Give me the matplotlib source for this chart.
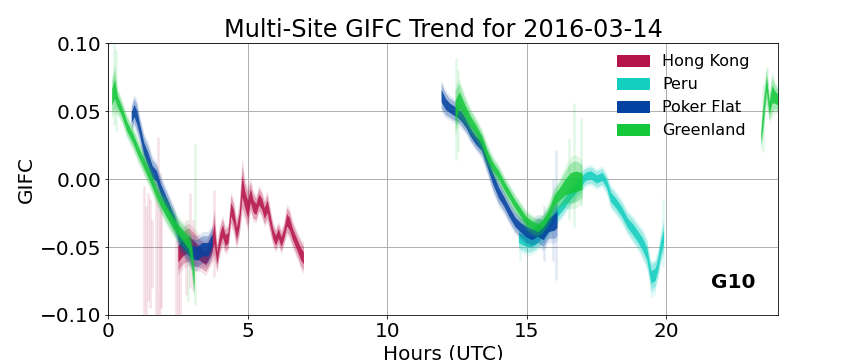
import numpy as np
import matplotlib
matplotlib.use("Agg")
import matplotlib.pyplot as plt
from matplotlib.patches import Patch

nan = np.nan

title = "Multi-Site GIFC Trend for 2016-03-14"
site_names = ["Hong Kong", "Peru", "Poker Flat", "Greenland"]
site_colors = ["#B5134A", "#12CFC0", "#0342A0", "#15C73B"]

# ---- Hong Kong (hours, centre, half spread) ----
hk_hours = [2.5, 2.7, 2.9, 3.1, 3.3, 3.5, 3.7, 3.8, 3.9, 4.0, 4.1, 4.2, 4.3, 4.4, 4.5, 4.6,
            4.7, 4.8, 4.9, 5.0, 5.1, 5.2, 5.3, 5.4, 5.5, 5.6, 5.7, 5.8, 5.9, 6.0, 6.1, 6.2,
            6.3, 6.4, 6.5, 6.6, 6.7, 6.8, 6.9, 7.0]
hk_center = [-0.055, -0.050, -0.048, -0.052, -0.055, -0.058, -0.050, -0.040, -0.058, -0.045,
             -0.038, -0.045, -0.043, -0.022, -0.028, -0.040, -0.030, -0.005, -0.015, -0.022,
             -0.012, -0.020, -0.022, -0.015, -0.018, -0.025, -0.020, -0.030, -0.040, -0.045,
             -0.040, -0.046, -0.040, -0.030, -0.033, -0.040, -0.045, -0.050, -0.055, -0.058]
hk_spread = [0.012, 0.012, 0.012, 0.012, 0.010, 0.010, 0.010, 0.015, 0.009, 0.009,
             0.009, 0.008, 0.008, 0.010, 0.010, 0.009, 0.010, 0.016, 0.012, 0.013,
             0.010, 0.009, 0.008, 0.008, 0.008, 0.008, 0.009, 0.008, 0.007, 0.007,
             0.007, 0.007, 0.007, 0.009, 0.009, 0.008, 0.008, 0.008, 0.009, 0.009]
hk_spike_hours = [1.28, 1.35, 1.42, 1.5, 1.58, 1.72, 1.78, 1.85, 1.9, 2.42, 2.5, 2.58, 2.8, 2.95, 3.05, 3.78]
hk_spike_low = [-0.099, -0.1, -0.09, -0.095, -0.08, -0.1, -0.1, -0.1, -0.095, -0.1, -0.1, -0.1, -0.085, -0.08, -0.082, -0.072]
hk_spike_high = [-0.005, -0.02, -0.01, -0.015, -0.03, 0.0, 0.031, 0.005, -0.02, -0.045, -0.04, -0.05, -0.03, -0.01, -0.03, -0.008]

# ---- Peru ----
pe_hours = [14.7, 14.9, 15.1, 15.3, 15.5, 15.7, 15.9, 16.1, 16.3, 16.5, 16.7, 16.9, 17.1, 17.3,
            17.5, 17.7, 17.85, 18.0, 18.2, 18.4, 18.6, 18.8, 19.0, 19.15, 19.3, 19.45, 19.6,
            19.7, 19.8, 19.9]
pe_center = [-0.043, -0.045, -0.046, -0.045, -0.040, -0.036, -0.030, -0.024, -0.019, -0.013,
             -0.008, -0.003, 0.002, 0.003, 0.000, 0.002, -0.003, -0.013, -0.018, -0.024,
             -0.032, -0.037, -0.043, -0.048, -0.055, -0.072, -0.070, -0.062, -0.050, -0.042]
pe_spread = [0.007, 0.008, 0.008, 0.007, 0.008, 0.007, 0.007, 0.007, 0.007, 0.007,
             0.007, 0.007, 0.006, 0.006, 0.006, 0.006, 0.006, 0.007, 0.007, 0.007,
             0.007, 0.008, 0.008, 0.009, 0.009, 0.009, 0.009, 0.009, 0.010, 0.010]
pe_spike_hours = [14.75, 19.45, 19.55, 19.88]
pe_spike_low = [-0.060, -0.087, -0.085, -0.065]
pe_spike_high = [-0.040, -0.060, -0.060, -0.015]

# ---- Poker Flat ----
pf_hours = [0.85, 0.95, 1.05, 1.15, 1.3, 1.45, 1.6, 1.75, 1.9, 2.05, 2.2, 2.4, 2.6, 2.8, 3.0,
            3.2, 3.4, 3.6, 3.75, nan,
            11.95, 12.1, 12.25, 12.4, 12.55, 12.7, 12.85, 13.0, 13.2, 13.4, 13.6, 13.8, 14.0,
            14.2, 14.4, 14.6, 14.8, 15.0, 15.2, 15.4, 15.6, 15.8, 16.0, 16.1]
pf_center = [0.045, 0.050, 0.045, 0.036, 0.022, 0.014, 0.005, 0.002, -0.008, -0.015, -0.022,
             -0.032, -0.045, -0.050, -0.054, -0.055, -0.052, -0.052, -0.045, nan,
             0.061, 0.055, 0.052, 0.050, 0.048, 0.045, 0.040, 0.034, 0.028, 0.024, 0.012,
             0.000, -0.010, -0.017, -0.025, -0.032, -0.036, -0.039, -0.041, -0.038, -0.040,
             -0.034, -0.032, -0.030]
pf_spread = [0.008, 0.009, 0.010, 0.008, 0.009, 0.010, 0.009, 0.008, 0.008, 0.008, 0.008,
             0.008, 0.008, 0.008, 0.010, 0.010, 0.010, 0.010, 0.009, nan,
             0.009, 0.008, 0.007, 0.007, 0.006, 0.007, 0.006, 0.006, 0.006, 0.007, 0.007,
             0.008, 0.008, 0.007, 0.007, 0.007, 0.007, 0.008, 0.008, 0.009, 0.010, 0.010,
             0.012, 0.012]
pf_spike_hours = [15.6, 15.95, 16.05]
pf_spike_low = [-0.060, -0.060, -0.074]
pf_spike_high = [-0.020, 0.000, 0.021]

# ---- Greenland ----
gl_hours = [0.15, 0.25, 0.35, 0.5, 0.7, 0.9, 1.1, 1.3, 1.5, 1.7, 1.9, 2.1, 2.3, 2.5, 2.7, 2.9,
            3.0, 3.1, nan,
            12.45, 12.6, 12.8, 13.0, 13.2, 13.4, 13.6, 13.8, 14.0, 14.2, 14.4, 14.6, 14.8,
            15.0, 15.2, 15.4, 15.6, 15.8, 16.0, 16.2, 16.4, 16.6, 16.8, 17.0, nan,
            23.4, 23.5, 23.6, 23.7, 23.8, 23.9, 24.0]
gl_center = [0.060, 0.066, 0.057, 0.050, 0.038, 0.030, 0.020, 0.011, 0.002, -0.008, -0.017,
             -0.024, -0.031, -0.037, -0.042, -0.047, -0.055, -0.075, nan,
             0.050, 0.058, 0.050, 0.042, 0.036, 0.028, 0.017, 0.009, 0.003, -0.005, -0.012,
             -0.019, -0.025, -0.031, -0.034, -0.036, -0.033, -0.026, -0.016, -0.011, -0.006,
             -0.003, -0.002, -0.002, nan,
             0.030, 0.050, 0.070, 0.052, 0.062, 0.060, 0.058]
gl_spread = [0.012, 0.014, 0.008, 0.007, 0.007, 0.007, 0.007, 0.007, 0.007, 0.007, 0.007,
             0.008, 0.008, 0.008, 0.008, 0.009, 0.012, 0.012, nan,
             0.015, 0.012, 0.009, 0.008, 0.007, 0.007, 0.007, 0.006, 0.006, 0.006, 0.006,
             0.006, 0.006, 0.006, 0.006, 0.006, 0.006, 0.007, 0.008, 0.009, 0.012, 0.015,
             0.015, 0.012, nan,
             0.008, 0.012, 0.010, 0.009, 0.013, 0.009, 0.008]
gl_spike_hours = [0.2, 0.3, 2.85, 3.1, 12.45, 12.55, 16.5, 16.7, 16.95, 23.45, 23.6]
gl_spike_low = [0.040, 0.035, -0.090, -0.093, 0.014, 0.020, -0.030, -0.035, -0.020, 0.020, 0.050]
gl_spike_high = [0.100, 0.095, -0.030, 0.026, 0.089, 0.080, 0.030, 0.056, 0.045, 0.070, 0.082]

series = [
    (hk_hours, hk_center, hk_spread, hk_spike_hours, hk_spike_low, hk_spike_high),
    (pe_hours, pe_center, pe_spread, pe_spike_hours, pe_spike_low, pe_spike_high),
    (pf_hours, pf_center, pf_spread, pf_spike_hours, pf_spike_low, pf_spike_high),
    (gl_hours, gl_center, gl_spread, gl_spike_hours, gl_spike_low, gl_spike_high),
]

fig = plt.figure(figsize=(12, 5), dpi=72)
ax = fig.add_axes([0.125, 0.125, 0.7755, 0.7555])

for (h, c, s, sh, sl, su), col in zip(series, site_colors):
    h = np.array(h, float); c = np.array(c, float); s = np.array(s, float)
    ax.vlines(sh, sl, su, colors=col, alpha=0.12, linewidth=2.5, zorder=2)
    ax.fill_between(h, c - 1.3 * s, c + 1.3 * s, color=col, alpha=0.12, linewidth=0, zorder=3)
    ax.fill_between(h, c - s, c + s, color=col, alpha=0.3, linewidth=0, zorder=3)
    ax.fill_between(h, c - 0.5 * s, c + 0.5 * s, color=col, alpha=0.85, linewidth=0, zorder=3)

ax.set_xlim(0, 24)
ax.set_ylim(-0.1, 0.1)
ax.set_xticks([0, 5, 10, 15, 20])
ax.set_yticks([-0.1, -0.05, 0.0, 0.05, 0.1])
ax.set_yticklabels(["\u22120.10", "\u22120.05", "0.00", "0.05", "0.10"])
ax.tick_params(labelsize=20)
ax.grid(True, color="#b0b0b0", linewidth=1)
ax.set_axisbelow(True)
ax.set_title(title, fontsize=24)
ax.set_xlabel("Hours (UTC)", fontsize=20)
ax.set_ylabel("GIFC", fontsize=20)
ax.text(0.933, 0.121, "G10", transform=ax.transAxes, fontsize=20, fontweight="bold",
        ha="center", va="center")

handles = [Patch(color=c, label=n) for n, c in zip(site_names, site_colors)]
ax.legend(handles=handles, loc="upper right", fontsize=16, frameon=False,
          bbox_to_anchor=(0.979, 1.011))

fig.savefig("out.png", dpi=72)
